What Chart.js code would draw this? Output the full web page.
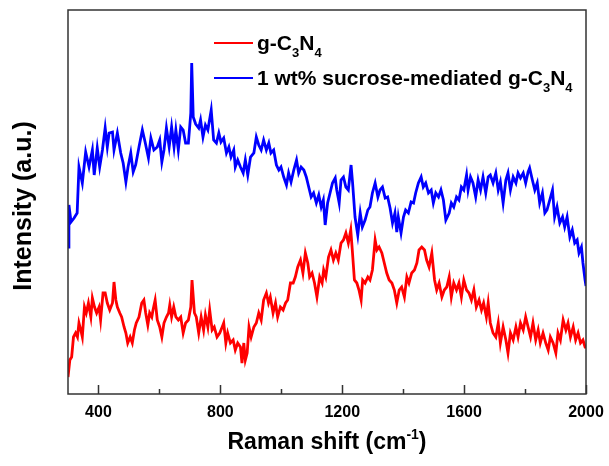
<!DOCTYPE html>
<html>
<head>
<meta charset="utf-8">
<script src="https://cdn.jsdelivr.net/npm/chart.js@4.4.1/dist/chart.umd.min.js"></script>
<style>
    html, body { margin: 0; padding: 0; background: #fff; }
    #wrap { width: 609px; height: 466px; }
</style>
</head>
<body>
<div id="wrap"><canvas id="ramanChart" width="609" height="466"></canvas></div>
<script>
// Raman shift (cm-1) and intensity (a.u.)
const shiftRed = [
    300, 306, 312, 318, 325, 331, 336, 342, 347, 354,
    360, 367, 375, 380, 387, 394, 402, 407, 415, 422,
    429, 437, 446, 451, 457, 462, 470, 476, 484, 490,
    496, 504, 511, 518, 524, 533, 542, 549, 555, 562,
    568, 575, 579, 586, 593, 601, 608, 615, 623, 630,
    634, 640, 647, 654, 662, 670, 678, 686, 695, 703,
    707, 715, 721, 729, 737, 745, 751, 759, 765, 773,
    780, 789, 798, 806, 811, 818, 824, 833, 842, 849,
    857, 866, 871, 877, 882, 888, 894, 901, 910, 918,
    926, 934, 942, 951, 958, 964, 973, 981, 988, 997,
    1006, 1014, 1021, 1030, 1039, 1046, 1054, 1063, 1071, 1079,
    1087, 1093, 1101, 1109, 1117, 1126, 1134, 1139, 1146, 1155,
    1163, 1171, 1179, 1187, 1196, 1204, 1212, 1220, 1228, 1233,
    1240, 1248, 1255, 1262, 1267, 1275, 1284, 1291, 1299, 1308,
    1314, 1321, 1330, 1338, 1346, 1354, 1363, 1371, 1379, 1387,
    1395, 1404, 1412, 1419, 1428, 1437, 1445, 1452, 1461, 1470,
    1477, 1485, 1494, 1503, 1510, 1518, 1527, 1535, 1543, 1551,
    1558, 1566, 1575, 1583, 1591, 1599, 1608, 1616, 1624, 1632,
    1640, 1649, 1657, 1664, 1673, 1679, 1686, 1695, 1704, 1712,
    1719, 1728, 1737, 1744, 1752, 1761, 1770, 1777, 1785, 1794,
    1802, 1810, 1818, 1826, 1835, 1843, 1850, 1859, 1868, 1876,
    1883, 1892, 1901, 1908, 1916, 1925, 1934, 1941, 1949, 1958,
    1966, 1974, 1982, 1990, 1997, 2000
];
const intensityRed = [
    17, 34, 37, 57, 61, 57, 71, 64, 57, 87,
    81, 91, 77, 96, 87, 81, 87, 74, 101, 101,
    91, 84, 91, 112, 94, 87, 81, 77, 67, 61,
    51, 57, 51, 64, 71, 77, 91, 94, 81, 69,
    81, 77, 84, 94, 74, 67, 57, 71, 77, 81,
    89, 77, 87, 77, 74, 77, 61, 71, 74, 87,
    114, 81, 77, 61, 77, 64, 79, 67, 84, 64,
    67, 57, 61, 67, 71, 51, 61, 51, 54, 44,
    51, 47, 31, 51, 34, 41, 67, 57, 67, 71,
    81, 74, 94, 101, 91, 97, 81, 91, 77, 87,
    84, 91, 94, 111, 111, 117, 127, 134, 121, 141,
    131, 117, 121, 111, 97, 117, 111, 124, 117, 137,
    144, 134, 141, 134, 151, 154, 161, 151, 164, 144,
    114, 111, 104, 94, 114, 111, 117, 114, 124, 154,
    144, 147, 141, 131, 121, 114, 111, 104, 91, 104,
    107, 97, 117, 111, 121, 124, 131, 144, 147, 144,
    134, 127, 141, 114, 104, 111, 97, 104, 107, 117,
    97, 111, 104, 111, 97, 114, 104, 101, 94, 104,
    87, 94, 84, 91, 77, 91, 71, 61, 57, 71,
    51, 67, 54, 41, 61, 54, 67, 57, 71, 64,
    77, 67, 57, 71, 54, 64, 51, 61, 51, 44,
    57, 51, 41, 61, 54, 74, 64, 71, 57, 67,
    54, 61, 51, 54, 47, 47
];
const shiftBlue = [
    300, 303, 310, 320, 330, 336, 347, 358, 369, 380,
    386, 396, 404, 413, 422, 429, 435, 446, 451, 462,
    473, 481, 490, 497, 506, 514, 522, 533, 544, 553,
    564, 572, 582, 593, 601, 608, 615, 623, 632, 640,
    648, 654, 662, 670, 678, 686, 695, 703, 706, 711,
    719, 729, 735, 743, 751, 759, 770, 778, 787, 795,
    802, 811, 820, 828, 835, 844, 849, 857, 866, 875,
    882, 890, 899, 910, 918, 926, 934, 942, 951, 959,
    966, 975, 984, 992, 999, 1008, 1017, 1024, 1032, 1041,
    1050, 1057, 1065, 1074, 1082, 1090, 1098, 1106, 1115, 1123,
    1131, 1138, 1144, 1152, 1160, 1168, 1177, 1182, 1190, 1196,
    1204, 1212, 1220, 1229, 1234, 1242, 1251, 1259, 1266, 1275,
    1284, 1291, 1299, 1308, 1317, 1324, 1332, 1341, 1349, 1357,
    1365, 1373, 1379, 1384, 1393, 1401, 1408, 1417, 1426, 1434,
    1441, 1450, 1459, 1466, 1474, 1483, 1492, 1499, 1507, 1516,
    1524, 1532, 1540, 1551, 1558, 1566, 1575, 1583, 1591, 1599,
    1608, 1613, 1621, 1629, 1638, 1646, 1654, 1662, 1671, 1679,
    1686, 1695, 1704, 1712, 1719, 1728, 1737, 1744, 1752, 1761,
    1770, 1777, 1785, 1794, 1802, 1810, 1815, 1824, 1832, 1840,
    1848, 1857, 1865, 1872, 1881, 1890, 1897, 1905, 1914, 1923,
    1930, 1938, 1947, 1955, 1963, 1971, 1977, 1985, 1990, 1997, 2000
];
const intensityBlue = [
    147, 189, 172, 176, 181, 227, 211, 242, 227, 244,
    219, 246, 227, 244, 266, 247, 261, 262, 244, 261,
    241, 231, 212, 227, 241, 222, 229, 247, 264, 252,
    236, 256, 244, 247, 254, 232, 244, 266, 247, 267,
    247, 264, 244, 267, 264, 251, 251, 281, 331, 277,
    270, 266, 274, 257, 269, 264, 284, 254, 251, 261,
    252, 256, 241, 247, 237, 244, 227, 234, 227, 221,
    234, 219, 237, 241, 257, 249, 244, 254, 244, 251,
    241, 244, 229, 224, 227, 217, 209, 221, 212, 224,
    234, 221, 227, 224, 217, 207, 197, 201, 191, 199,
    187, 194, 169, 191, 201, 211, 216, 204, 191, 214,
    217, 207, 204, 229, 211, 177, 159, 181, 167, 174,
    184, 187, 201, 211, 197, 204, 207, 196, 197, 186,
    171, 181, 162, 177, 161, 177, 184, 181, 192, 191,
    201, 211, 217, 207, 211, 201, 204, 191, 201, 197,
    204, 194, 174, 181, 191, 187, 197, 194, 207, 204,
    219, 204, 217, 211, 197, 214, 204, 217, 201, 217,
    219, 211, 221, 204, 212, 191, 214, 221, 204, 217,
    211, 221, 216, 221, 211, 222, 226, 214, 204, 211,
    191, 201, 181, 184, 194, 204, 177, 187, 171, 177,
    167, 177, 157, 164, 151, 154, 141, 147, 131, 114, 108
];
const majorTicks = [400, 800, 1200, 1600, 2000];
const minorTicks = [600, 1000, 1400, 1800];

// text pieces, sub/sup marked so the plugin can shrink them
const redName = [{ t: 'g-C' }, { t: '3', sub: true }, { t: 'N' }, { t: '4', sub: true }];
const blueName = [{ t: '1 wt% sucrose-mediated g-C' }, { t: '3', sub: true }, { t: 'N' }, { t: '4', sub: true }];
const xTitle = [{ t: 'Raman shift (cm' }, { t: '-1', sup: true }, { t: ')' }];
const yTitle = [{ t: 'Intensity (a.u.)' }];

const FONT = "'Liberation Sans', Arial, sans-serif";

function drawParts(ctx, parts, x, y, size, align) {
    const big = 'bold ' + size + 'px ' + FONT;
    const small = 'bold ' + Math.round(size * 0.62) + 'px ' + FONT;
    let w = 0;
    parts.forEach(p => {
        ctx.font = (p.sub || p.sup) ? small : big;
        w += ctx.measureText(p.t).width;
    });
    let cx = align === 'center' ? x - w / 2 : x;
    parts.forEach(p => {
        ctx.font = (p.sub || p.sup) ? small : big;
        const dy = p.sub ? size * 0.33 : (p.sup ? -size * 0.42 : 0);
        ctx.fillText(p.t, cx, y + dy);
        cx += ctx.measureText(p.t).width;
    });
}

// frame, inward ticks, axis titles and legend
const ramanDecor = {
    id: 'ramanDecor',
    afterDraw(chart) {
        const { ctx, chartArea: a } = chart;
        const xs = chart.scales.x;
        ctx.save();
        ctx.strokeStyle = '#333';
        ctx.lineWidth = 1.5;
        ctx.strokeRect(a.left, a.top, a.right - a.left, a.bottom - a.top);

        ctx.beginPath();
        majorTicks.forEach(v => {
            const px = Math.round(xs.getPixelForValue(v)) + 0.5;
            ctx.moveTo(px, a.bottom);
            ctx.lineTo(px, a.bottom - 9);
        });
        minorTicks.forEach(v => {
            const px = Math.round(xs.getPixelForValue(v)) + 0.5;
            ctx.moveTo(px, a.bottom);
            ctx.lineTo(px, a.bottom - 5);
        });
        ctx.stroke();

        ctx.fillStyle = '#000';
        ctx.textAlign = 'left';
        ctx.textBaseline = 'alphabetic';
        drawParts(ctx, xTitle, (a.left + a.right) / 2, 449, 23, 'center');

        ctx.save();
        ctx.translate(31, (a.top + a.bottom) / 2 + 4);
        ctx.rotate(-Math.PI / 2);
        drawParts(ctx, yTitle, 0, 0, 25, 'center');
        ctx.restore();

        // legend
        const entries = [
            { color: '#ff0000', name: redName, y: 43 },
            { color: '#0000ff', name: blueName, y: 78 }
        ];
        entries.forEach(e => {
            ctx.strokeStyle = e.color;
            ctx.lineWidth = 2;
            ctx.beginPath();
            ctx.moveTo(214, e.y);
            ctx.lineTo(253, e.y);
            ctx.stroke();
            ctx.fillStyle = '#000';
            drawParts(ctx, e.name, 257, e.y + 7, 21, 'left');
        });
        ctx.restore();
    }
};

const toPoints = (xs, ys) => xs.map((v, i) => ({ x: v, y: ys[i] }));

new Chart(document.getElementById('ramanChart'), {
    type: 'line',
    data: {
        datasets: [
            {
                label: 'g-C3N4',
                data: toPoints(shiftRed, intensityRed),
                borderColor: '#ff0000',
                borderWidth: 2.8,
                pointRadius: 0,
                tension: 0
            },
            {
                label: '1 wt% sucrose-mediated g-C3N4',
                data: toPoints(shiftBlue, intensityBlue),
                borderColor: '#0000ff',
                borderWidth: 2.8,
                pointRadius: 0,
                tension: 0
            }
        ]
    },
    options: {
        responsive: false,
        animation: false,
        layout: { padding: { top: 10, right: 23, left: 0, bottom: 0 } },
        plugins: { legend: { display: false }, tooltip: { enabled: false } },
        scales: {
            x: {
                type: 'linear',
                min: 300,
                max: 2000,
                grid: { display: false },
                border: { display: false },
                afterBuildTicks: s => { s.ticks = majorTicks.map(v => ({ value: v })); },
                afterFit: s => { s.height = 72; },
                ticks: {
                    callback: v => String(v),
                    color: '#000',
                    padding: 1,
                    maxRotation: 0,
                    font: { family: FONT, size: 16, weight: 'bold' }
                }
            },
            y: {
                min: 0,
                max: 384,
                grid: { display: false },
                border: { display: false },
                ticks: { display: false },
                afterFit: s => { s.width = 68; }
            }
        }
    },
    plugins: [ramanDecor]
});
</script>
</body>
</html>
